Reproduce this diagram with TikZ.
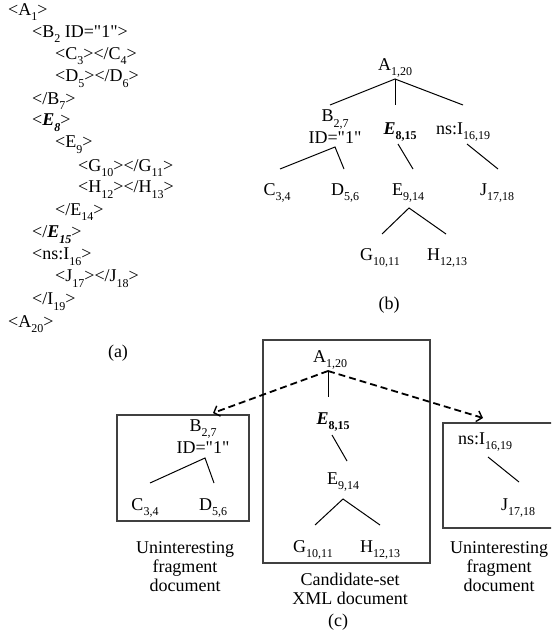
\documentclass[tikz,border=0pt]{standalone}
\usepackage{fontspec}
\setmainfont{Liberation Serif}[Ligatures=TeXOff]
\usetikzlibrary{arrows.meta}
\newcommand{\sbs}[1]{\raisebox{-0.32em}{\fontsize{12}{12}\selectfont #1}}
\newcommand{\bE}{\textbf{\textit{E}}}
\tikzset{
  lbl/.style={inner sep=0pt, font=\fontsize{18}{20}\selectfont, align=center},
  xml/.style={lbl, anchor=west},
  basel/.style={lbl, anchor=base},
  edge/.style={line width=1pt},
  frame/.style={line width=1.1pt, draw=black!75},
  darrow/.style={line width=1.8pt, dash pattern=on 7pt off 4pt, -{Straight Barb[length=5pt,width=11pt,line width=1.4pt]}}
}
\begin{document}
\begin{tikzpicture}[x=1pt,y=-1pt]
\clip (0,0) rectangle (551,636);
\useasboundingbox (0,0) rectangle (551,636);
% (a)
\node[xml] (r0)  at (8,12)   {<A\sbs{1}>};
\node[xml] (r1)  at (32,34)  {<B\sbs{2} ID="1">};
\node[xml] (r2)  at (55,56)  {<C\sbs{3}></C\sbs{4}>};
\node[xml] (r3)  at (55,79)  {<D\sbs{5}></D\sbs{6}>};
\node[xml] (r4)  at (32,101) {</B\sbs{7}>};
\node[xml] (r5)  at (32,123) {<\bE\sbs{\textbf{\textit{8}}}>};
\node[xml] (r6)  at (55,145) {<E\sbs{9}>};
\node[xml] (r7)  at (78,168) {<G\sbs{10}></G\sbs{11}>};
\node[xml] (r8)  at (78,190) {<H\sbs{12}></H\sbs{13}>};
\node[xml] (r9)  at (55,212) {</E\sbs{14}>};
\node[xml] (r10) at (32,235) {</\bE\sbs{\textbf{\textit{15}}}>};
\node[xml] (r11) at (32,257) {<ns:I\sbs{16}>};
\node[xml] (r12) at (55,279) {<J\sbs{17}></J\sbs{18}>};
\node[xml] (r13) at (32,302) {</I\sbs{19}>};
\node[xml] (r14) at (8,324)  {<A\sbs{20}>};
\node[lbl] (capa) at (118,353) {(a)};
% (b)
\node[lbl] (bA) at (395,68) {A\sbs{1,20}};
\node[basel] (bB) at (335,122) {B\sbs{2,7}};
\node[basel] (bID) at (335,144) {ID="1"};
\node[lbl] (bE) at (400,132) {\bE\sbs{\textbf{8,15}}};
\node[lbl] (bI) at (463,132) {ns:I\sbs{16,19}};
\node[lbl] (bC) at (277,193) {C\sbs{3,4}};
\node[lbl] (bD) at (345,193) {D\sbs{5,6}};
\node[lbl] (bE9) at (408,193) {E\sbs{9,14}};
\node[lbl] (bJ) at (497,193) {J\sbs{17,18}};
\node[lbl] (bG) at (380,258) {G\sbs{10,11}};
\node[lbl] (bH) at (447,258) {H\sbs{12,13}};
\node[lbl] (capb) at (389,305) {(b)};
\coordinate (bAj) at (395,79);
\coordinate (bBt) at (330,105);
\coordinate (bEt) at (395,105);
\coordinate (bIt) at (463,105);
\coordinate (bBj) at (335,147);
\coordinate (bCt) at (280,169);
\coordinate (bDt) at (344,169);
\coordinate (bEj) at (398,144);
\coordinate (bE9t) at (413,169);
\coordinate (bIj) at (467,144);
\coordinate (bJt) at (498,169);
\coordinate (bE9j) at (409,208);
\coordinate (bGt) at (382,234);
\coordinate (bHt) at (446,234);
\draw[edge] (bBt) -- (bAj) -- (bIt);
\draw[edge] (bAj) -- (bEt);
\draw[edge] (bCt) -- (bBj) -- (bDt);
\draw[edge] (bEj) -- (bE9t);
\draw[edge] (bIj) -- (bJt);
\draw[edge] (bGt) -- (bE9j) -- (bHt);
% (c) boxes
\draw[frame] (117,415) rectangle (249,521);
\draw[frame] (263,340) rectangle (430,563);
\draw[frame] (443,423) rectangle (570,528);
% (c) center
\node[lbl] (cA) at (330,360) {A\sbs{1,20}};
\node[lbl] (cE) at (333,422) {\bE\sbs{\textbf{8,15}}};
\node[lbl] (cE9) at (343,482) {E\sbs{9,14}};
\node[lbl] (cG) at (313,550) {G\sbs{10,11}};
\node[lbl] (cH) at (380,550) {H\sbs{12,13}};
\coordinate (cAj) at (328,371);
\coordinate (cEt) at (328,397);
\coordinate (cEj) at (332,435);
\coordinate (cE9t) at (347,461);
\coordinate (cE9j) at (343,499);
\coordinate (cGt) at (315,525);
\coordinate (cHt) at (380,525);
\draw[edge] (cAj) -- (cEt);
\draw[edge] (cEj) -- (cE9t);
\draw[edge] (cGt) -- (cE9j) -- (cHt);
% (c) left
\node[basel] (lB) at (203,431) {B\sbs{2,7}};
\node[basel] (lID) at (203,453) {ID="1"};
\node[lbl] (lC) at (145,508) {C\sbs{3,4}};
\node[lbl] (lD) at (213,508) {D\sbs{5,6}};
\coordinate (lBj) at (205,458);
\coordinate (lCt) at (150,483);
\coordinate (lDt) at (214,483);
\draw[edge] (lCt) -- (lBj) -- (lDt);
% (c) right
\node[lbl] (rI) at (485,442) {ns:I\sbs{16,19}};
\node[lbl] (rJ) at (518,508) {J\sbs{17,18}};
\coordinate (rIj) at (488,457);
\coordinate (rJt) at (519,482);
\draw[edge] (rIj) -- (rJt);
% dashed arrows
\coordinate (lTip) at (213,413);
\coordinate (rTip) at (483,418);
\draw[darrow] (cAj) -- (lTip);
\draw[darrow] (cAj) -- (rTip);
% captions
\node[lbl] (capl) at (185,567) {Uninteresting\\[-1pt]fragment\\[-1pt]document};
\node[lbl] (capr) at (499,567) {Uninteresting\\[-1pt]fragment\\[-1pt]document};
\node[lbl] (capm) at (350,589) {Candidate-set\\[-1pt]XML document};
\node[lbl] (capc) at (338,622) {(c)};
\end{tikzpicture}
\end{document}
